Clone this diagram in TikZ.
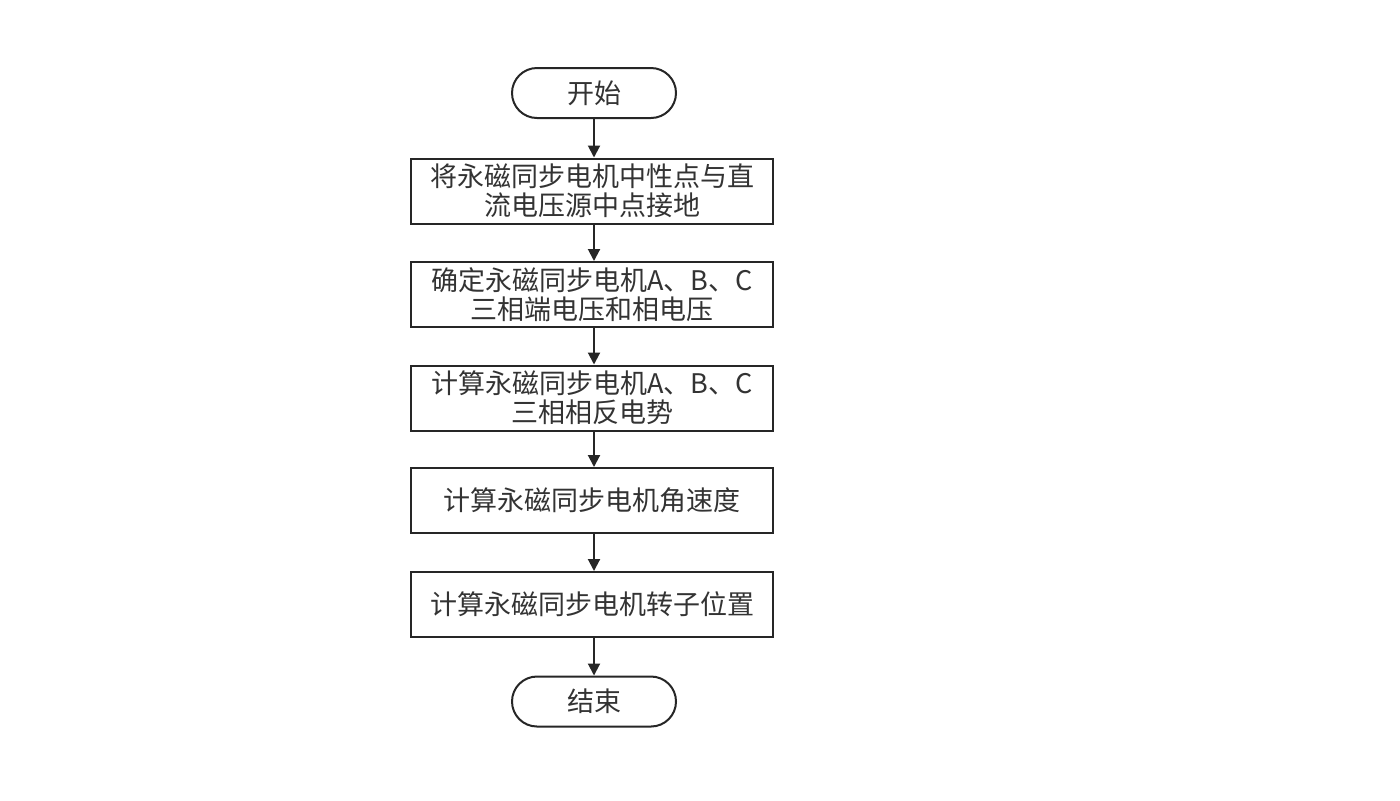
\documentclass[tikz,border=0pt]{standalone}
\usepackage{fontspec}
\newfontfamily\cjk{Noto Sans CJK SC}
\usetikzlibrary{arrows.meta}
\begin{document}
\begin{tikzpicture}[x=0.5pt,y=-0.5pt,
  every node/.style={font=\cjk\fontsize{13.5}{14.5}\selectfont, text=black!80},
  stepbox/.style={draw=black!85, line width=1pt, minimum width=181pt, minimum height=32.5pt, align=center, inner sep=0pt},
  term/.style={draw=black!85, line width=1pt, minimum width=82pt, minimum height=25pt, rounded corners=12.5pt, inner sep=0pt},
  arr/.style={draw=black!85, line width=1pt, -{Triangle[length=6pt,width=6pt]}}]
\useasboundingbox (0,0) rectangle (1400,800);
\fill[white] (0,0) rectangle (1400,800);
\node[term] (s) at (594,93) {开始};
\node[stepbox] (b1) at (592,191) {将永磁同步电机中性点与直\\流电压源中点接地};
\node[stepbox] (b2) at (592,294.5) {确定永磁同步电机A、B、C\\三相端电压和相电压};
\node[stepbox] (b3) at (592,398) {计算永磁同步电机A、B、C\\三相相反电势};
\node[stepbox] (b4) at (592,500.5) {计算永磁同步电机角速度};
\node[stepbox] (b5) at (592,604.5) {计算永磁同步电机转子位置};
\node[term] (e) at (594,701.5) {结束};
\draw[arr] (s.south) -- (s.south |- b1.north);
\draw[arr] (s.south |- b1.south) -- (s.south |- b2.north);
\draw[arr] (s.south |- b2.south) -- (s.south |- b3.north);
\draw[arr] (s.south |- b3.south) -- (s.south |- b4.north);
\draw[arr] (s.south |- b4.south) -- (s.south |- b5.north);
\draw[arr] (s.south |- b5.south) -- (e.north);
\end{tikzpicture}
\end{document}
